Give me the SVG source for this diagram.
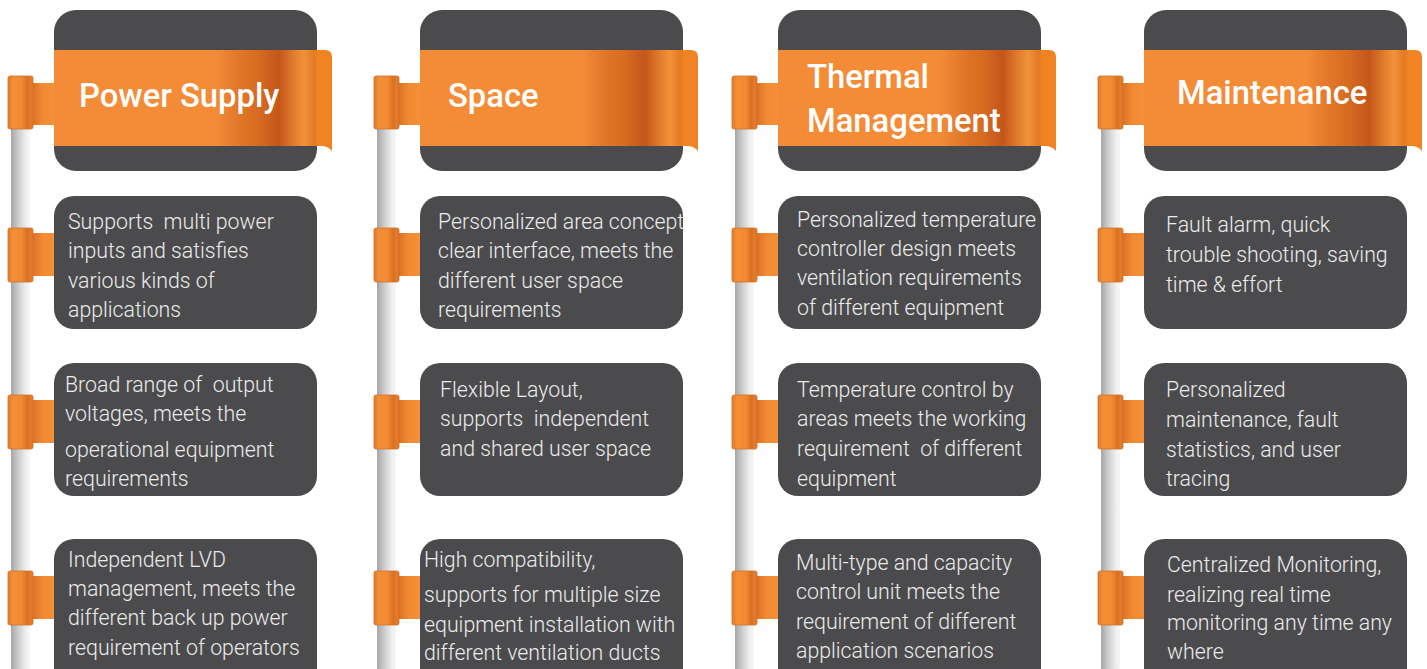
<svg xmlns="http://www.w3.org/2000/svg" width="1427" height="669" viewBox="0 0 1427 669">
  <defs>
    <!-- metallic ribbon shading across the title band -->
    <linearGradient id="bandGrad" x1="0" y1="0" x2="1" y2="0">
      <stop offset="0" stop-color="#F48C37"/>
      <stop offset="0.58" stop-color="#F48C37"/>
      <stop offset="0.66" stop-color="#E2782A"/>
      <stop offset="0.74" stop-color="#D66A20"/>
      <stop offset="0.81" stop-color="#C4561A"/>
      <stop offset="0.86" stop-color="#E07A2C"/>
      <stop offset="0.9" stop-color="#F29239"/>
      <stop offset="0.935" stop-color="#E27A24"/>
      <stop offset="0.95" stop-color="#F08322"/>
      <stop offset="1" stop-color="#F18324"/>
    </linearGradient>
    <!-- chrome pole -->
    <linearGradient id="poleGrad" x1="0" y1="0" x2="1" y2="0">
      <stop offset="0" stop-color="#A6A6A6"/>
      <stop offset="0.4" stop-color="#CFCFCF"/>
      <stop offset="0.8" stop-color="#F0F0F0"/>
      <stop offset="1" stop-color="#F6F6F6"/>
    </linearGradient>
    <!-- orange clamp on the pole -->
    <linearGradient id="capGrad" x1="0" y1="0" x2="1" y2="0">
      <stop offset="0" stop-color="#DF792B"/>
      <stop offset="0.2" stop-color="#F39036"/>
      <stop offset="0.55" stop-color="#F08A33"/>
      <stop offset="0.78" stop-color="#D97022"/>
      <stop offset="0.9" stop-color="#E27D2C"/>
      <stop offset="1" stop-color="#D8722A"/>
    </linearGradient>
    <linearGradient id="armGrad" x1="0" y1="0" x2="1" y2="0">
      <stop offset="0" stop-color="#DC7226"/>
      <stop offset="0.45" stop-color="#F08A34"/>
      <stop offset="1" stop-color="#F49038"/>
    </linearGradient>
    <style>
      .pole { fill: url(#poleGrad); }
      .cap { fill: url(#capGrad); stroke: #D3712C; stroke-width: 0.8; }
      .arm { fill: url(#armGrad); }
      .box { fill: #4B4B4D; }
      .band { fill: url(#bandGrad); }
      .head { font-family: Roboto, "Liberation Sans", sans-serif; font-weight: 500; font-size: 32.8px; fill: #FFFFFF; }
      .body { font-family: Roboto, "Liberation Sans", sans-serif; font-weight: 300; font-size: 21.3px; fill: #ECECEC; white-space: pre; }
    </style>
    <!-- pole with a title clamp and three item clamps -->
    <g id="poleSet">
      <rect class="pole" x="11" y="125" width="19" height="560"/>
      <rect class="arm" x="33" y="83" width="21" height="42"/>
      <rect class="cap" x="8" y="76" width="25" height="53" rx="2"/>
      <rect class="arm" x="33" y="233" width="21" height="43"/>
      <rect class="cap" x="8" y="228" width="25" height="54" rx="2"/>
      <rect class="arm" x="33" y="400" width="21" height="43"/>
      <rect class="cap" x="8" y="395" width="25" height="54" rx="2"/>
      <rect class="arm" x="33" y="576" width="21" height="43"/>
      <rect class="cap" x="8" y="571" width="25" height="54" rx="2"/>
    </g>
    <!-- title card with the ribbon wrapped across it -->
    <g id="titleCard">
      <rect class="box" x="54" y="10" width="263" height="161" rx="22"/>
      <path class="band" d="M54,50 H325 Q332,50 332,57 V151 Q328,146 321,146 H54 Z"/>
    </g>
  </defs>

  <!-- Power Supply -->
  <g id="col-power-supply">
    <use href="#poleSet"/>
    <use href="#titleCard"/>
    <text class="head" x="79" y="107">Power Supply</text>
    <g id="power-1">
      <rect class="box" x="54" y="196" width="263" height="133" rx="20"/>
      <text class="body" x="68" y="229">Supports  multi power</text>
      <text class="body" x="68" y="258">inputs and satisfies</text>
      <text class="body" x="68" y="288">various kinds of</text>
      <text class="body" x="68" y="317">applications</text>
    </g>
    <g id="power-2">
      <rect class="box" x="54" y="363" width="263" height="133" rx="20"/>
      <text class="body" x="65" y="392">Broad range of  output</text>
      <text class="body" x="65" y="421">voltages, meets the</text>
      <text class="body" x="65" y="457">operational equipment</text>
      <text class="body" x="65" y="486">requirements</text>
    </g>
    <g id="power-3">
      <rect class="box" x="54" y="539" width="263" height="150" rx="20"/>
      <text class="body" x="68" y="567">Independent LVD</text>
      <text class="body" x="68" y="596">management, meets the</text>
      <text class="body" x="68" y="625">different back up power</text>
      <text class="body" x="68" y="655">requirement of operators</text>
    </g>
  </g>

  <!-- Space -->
  <g id="col-space" transform="translate(366,0)">
    <use href="#poleSet"/>
    <use href="#titleCard"/>
    <text class="head" x="82" y="107">Space</text>
    <g id="space-1">
      <rect class="box" x="54" y="196" width="263" height="133" rx="20"/>
      <text class="body" x="72" y="229">Personalized area concept</text>
      <text class="body" x="72" y="258">clear interface, meets the</text>
      <text class="body" x="72" y="288">different user space</text>
      <text class="body" x="72" y="317">requirements</text>
    </g>
    <g id="space-2">
      <rect class="box" x="54" y="363" width="263" height="133" rx="20"/>
      <text class="body" x="74" y="397">Flexible Layout,</text>
      <text class="body" x="74" y="426">supports  independent</text>
      <text class="body" x="74" y="456">and shared user space</text>
    </g>
    <g id="space-3">
      <rect class="box" x="54" y="539" width="263" height="150" rx="20"/>
      <text class="body" x="58" y="567">High compatibility,</text>
      <text class="body" x="58" y="602">supports for multiple size</text>
      <text class="body" x="58" y="632">equipment installation with</text>
      <text class="body" x="58" y="660">different ventilation ducts</text>
    </g>
  </g>

  <!-- Thermal Management -->
  <g id="col-thermal" transform="translate(724,0)">
    <use href="#poleSet"/>
    <use href="#titleCard"/>
    <text class="head" x="83" y="88">Thermal</text>
    <text class="head" x="83" y="132">Management</text>
    <g id="thermal-1">
      <rect class="box" x="54" y="196" width="263" height="133" rx="20"/>
      <text class="body" x="73" y="227">Personalized temperature</text>
      <text class="body" x="73" y="256">controller design meets</text>
      <text class="body" x="73" y="285">ventilation requirements</text>
      <text class="body" x="73" y="315">of different equipment</text>
    </g>
    <g id="thermal-2">
      <rect class="box" x="54" y="363" width="263" height="133" rx="20"/>
      <text class="body" x="73" y="397">Temperature control by</text>
      <text class="body" x="73" y="426">areas meets the working</text>
      <text class="body" x="73" y="456">requirement  of different</text>
      <text class="body" x="73" y="486">equipment</text>
    </g>
    <g id="thermal-3">
      <rect class="box" x="54" y="539" width="263" height="150" rx="20"/>
      <text class="body" x="72" y="570">Multi-type and capacity</text>
      <text class="body" x="72" y="599">control unit meets the</text>
      <text class="body" x="72" y="629">requirement of different</text>
      <text class="body" x="72" y="658">application scenarios</text>
    </g>
  </g>

  <!-- Maintenance -->
  <g id="col-maintenance" transform="translate(1090,0)">
    <use href="#poleSet"/>
    <use href="#titleCard"/>
    <text class="head" x="87" y="104">Maintenance</text>
    <g id="maint-1">
      <rect class="box" x="54" y="196" width="263" height="133" rx="20"/>
      <text class="body" x="76" y="232">Fault alarm, quick</text>
      <text class="body" x="76" y="262">trouble shooting, saving</text>
      <text class="body" x="76" y="292">time &amp; effort</text>
    </g>
    <g id="maint-2">
      <rect class="box" x="54" y="363" width="263" height="133" rx="20"/>
      <text class="body" x="76" y="397">Personalized</text>
      <text class="body" x="76" y="427">maintenance, fault</text>
      <text class="body" x="76" y="457">statistics, and user</text>
      <text class="body" x="76" y="486">tracing</text>
    </g>
    <g id="maint-3">
      <rect class="box" x="54" y="539" width="263" height="150" rx="20"/>
      <text class="body" x="77" y="572">Centralized Monitoring,</text>
      <text class="body" x="77" y="602">realizing real time</text>
      <text class="body" x="77" y="630">monitoring any time any</text>
      <text class="body" x="77" y="659">where</text>
    </g>
  </g>

  <!-- no connectors: each card hangs from its pole clamp -->
  <g id="connectors"/>
</svg>
